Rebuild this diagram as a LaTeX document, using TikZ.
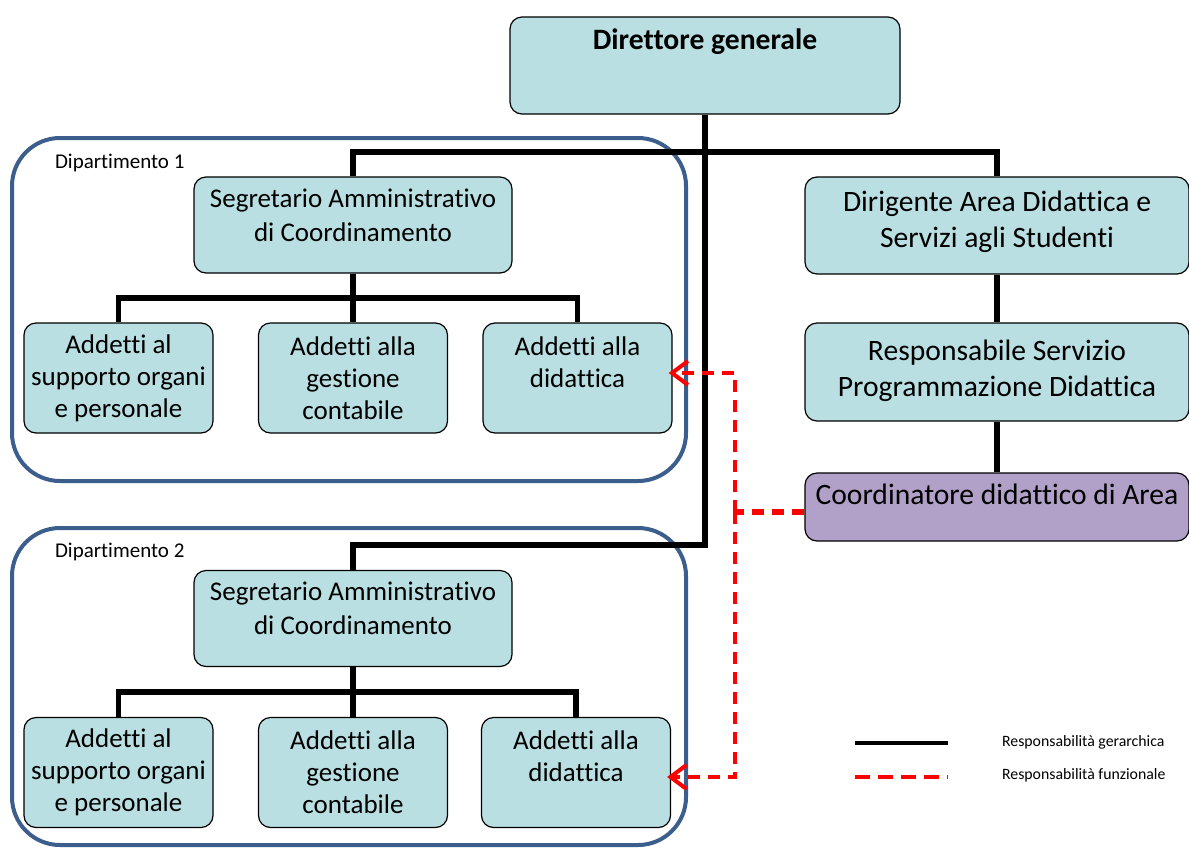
\documentclass[tikz,border=0pt]{standalone}
\usepackage{fontspec}
\setmainfont{Carlito}[Ligatures=NoCommon]
\usetikzlibrary{arrows.meta,positioning}
\definecolor{boxfill}{HTML}{B9DFE2}
\definecolor{coordfill}{HTML}{B1A0C7}
\definecolor{deptblue}{HTML}{3B5E8C}
\definecolor{funcred}{HTML}{FF0000}
\begin{document}
\begin{tikzpicture}[x=0.5pt,y=-0.5pt,
 box/.style={draw=black,fill=boxfill,rounded corners=6pt,line width=0.6pt,align=center,inner sep=0pt,font=\fontsize{13.5}{17}\selectfont},
 addbox/.style={box,minimum width=94.5pt,minimum height=55pt,font=\fontsize{13.5}{16}\selectfont},
 segbox/.style={box,minimum width=159pt,minimum height=48pt},
 rbox/.style={box,minimum width=192pt,minimum height=48.5pt,font=\fontsize{14.8}{18}\selectfont},
 dept/.style={draw=deptblue,line width=2pt,rounded corners=24pt,minimum width=337pt},
 deptlabel/.style={anchor=west,font=\fontsize{10.5}{12}\selectfont},
 hier/.style={line width=2.8pt},
 func/.style={draw=funcred,line width=2pt,dash pattern=on 6pt off 4pt},
 arr/.style={-{Straight Barb[length=8pt,width=12pt,line width=2pt]}},
 legend/.style={anchor=west,font=\fontsize{7.9}{9}\selectfont}
]
\useasboundingbox (0,0) rectangle (1189,847);
\node[dept,minimum height=171.5pt] (dep1) at (349,309.5) {};
\node[dept,minimum height=158.5pt] (dep2) at (349,686.5) {};
\node[deptlabel] (lab1) at (48,163) {Dipartimento 1};
\node[deptlabel] (lab2) at (48,552) {Dipartimento 2};

\node[box,minimum width=195pt,minimum height=48.5pt] (dg) at (705,65.5) {};
\node[font=\bfseries\fontsize{14.8}{18}\selectfont] (dgt) at (705,42) {Direttore generale};

\node[segbox] (seg1) at (353,225) {Segretario Amministrativo\\di Coordinamento\\[-7pt]\mbox{}};
\node[addbox] (a11) at (118.5,378) {Addetti al\\supporto organi\\e personale};
\node[addbox] (a12) at (353,378) {Addetti alla\\gestione\\contabile};
\node[addbox] (a13) at (577.5,378) {Addetti alla\\didattica\\\mbox{}};

\node[segbox] (seg2) at (353,618.5) {Segretario Amministrativo\\di Coordinamento\\[-7pt]\mbox{}};
\node[addbox] (a21) at (118.5,772.5) {Addetti al\\supporto organi\\e personale};
\node[addbox] (a22) at (353,772.5) {Addetti alla\\gestione\\contabile};
\node[addbox] (a23) at (576,772.5) {Addetti alla\\didattica\\\mbox{}};

\node[rbox] (dir) at (997,225.5) {Dirigente Area Didattica e\\Servizi agli Studenti\\[-12pt]\mbox{}};
\node[rbox,minimum height=49pt] (resp) at (997,372) {Responsabile Servizio\\Programmazione Didattica\\[-14pt]\mbox{}};
\node[rbox,fill=coordfill,minimum height=34pt] (coord) at (997,507) {Coordinatore didattico di Area\\[-5pt]\mbox{}};

\coordinate (t2) at (353,545);
\coordinate (b1) at (353,298);
\coordinate (b2) at (353,692);
\coordinate (r0) at (735,512);

\draw[hier] (seg1.north) |- (dir.north |- 0,152) -- (dir.north);
\draw[hier] (dg.south) |- (t2) -- (seg2.north);
\draw[hier] (seg1.south) -- (a12.north);
\draw[hier] (a11.north) |- (b1) -| (a13.north);
\draw[hier] (seg2.south) -- (a22.north);
\draw[hier] (a21.north) |- (b2) -| (a23.north);
\draw[hier] (dir.south) -- (resp.north);
\draw[hier] (resp.south) -- (coord.north);

\draw[func,line width=3pt] (coord.west |- r0) -- (r0);
\draw[func,arr] (r0) |- ([xshift=-2pt,yshift=2.5pt]a13.east);
\draw[func,arr] (r0) |- ([xshift=-2pt,yshift=-2.25pt]a23.east);

\coordinate (g1) at (855,743);
\coordinate (g2) at (948,743);
\coordinate (f1) at (855,777);
\coordinate (f2) at (948,777);
\draw[hier,line width=2pt] (g1) -- (g2);
\draw[func,dash pattern=on 7.5pt off 4pt] (f1) -- (f2);
\node[legend] (leg1) at (995,742) {Responsabilità gerarchica};
\node[legend] (leg2) at (995,775) {Responsabilità funzionale};
\end{tikzpicture}
\end{document}
